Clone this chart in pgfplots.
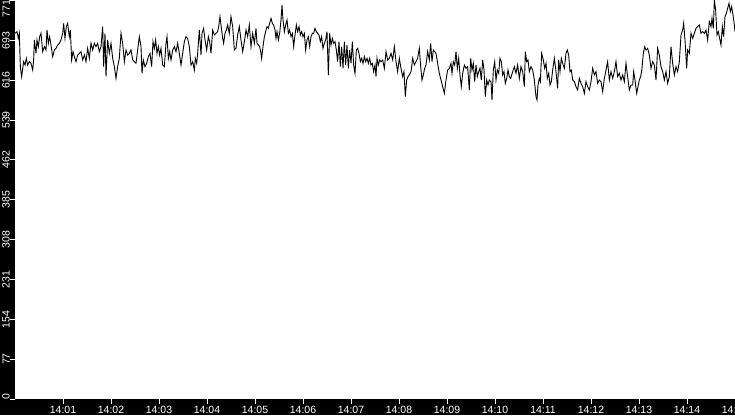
\documentclass[border=0pt]{standalone}
\usepackage{pgfplots}
\pgfplotsset{compat=1.18}
\usepackage{fontspec}
\setmainfont{Liberation Sans}
\begin{document}
\begin{tikzpicture}[x=1pt,y=1pt]
\fill[black] (0,0) rectangle (735,415);
\begin{axis}[
  at={(15pt,16pt)}, anchor=south west,
  scale only axis, width=720pt, height=399pt,
  xmin=0, xmax=900, ymin=0, ymax=771,
  axis background/.style={fill=white},
  axis line style={draw=none},
  tick align=outside, tick pos=left,
  major tick length=5pt,
  every tick/.style={white, line width=1pt},
  xtick={60,120,180,240,300,360,420,480,540,600,660,720,780,840,900},
  xticklabels={14:01,14:02,14:03,14:04,14:05,14:06,14:07,14:08,14:09,14:10,14:11,14:12,14:13,14:14,14:15},
  ytick={0,77,154,231,308,385,462,539,616,693,771},
  yticklabels={\rlap{0},77,154,231,308,385,462,539,616,693,\llap{771}},
  tick label style={white, font=\fontsize{10.5}{12}\selectfont, inner sep=0pt},
  yticklabel style={rotate=90, anchor=south},
  xticklabel style={anchor=north, yshift=-2pt},
  /pgf/number format/assume math mode=true,
]
\addplot[black, line width=0.9pt] coordinates {
(0,706.6)(2.5,709.8)(4.2,696.9)(5.4,706.6)(6.7,642.2)(8.3,622.9)(10.8,651.8)(12.5,645.4)(14.2,658.3)(15.8,645.4)
(17.9,651.8)(20,648.6)(22.1,635.7)(23.3,655.1)(24.2,693.7)(26.25,667.9)(27.5,693.7)(29.2,680.8)(30.8,700.1)(32.5,706.6)
(34.6,671.2)(36.7,680.8)(38.75,674.4)(40,713.0)(41.7,687.3)(43.3,700.1)(45,684.0)(47.1,661.5)(49.2,674.4)(51.25,677.6)
(53.3,684.0)(55.4,687.3)(57.5,693.7)(59.6,706.6)(60.8,725.9)(62.5,696.9)(64.2,719.5)(65.8,725.9)(67.9,700.1)(69.2,713.0)
(70.8,655.1)(72.5,671.2)(74.2,661.5)(76.25,651.8)(78.3,664.7)(80.4,667.9)(82.5,671.2)(84.6,655.1)(86.7,664.7)(88.75,651.8)
(90.8,677.6)(92.9,658.3)(95,687.3)(97.1,674.4)(99.2,687.3)(101.25,680.8)(103.3,687.3)(105.4,671.2)(107.5,680.8)(109.6,719.5)
(110.8,642.2)(112.5,706.6)(113.75,622.9)(115.8,693.7)(117.9,667.9)(120,687.3)(122.1,658.3)(124.2,642.2)(126.25,619.6)(128.3,642.2)
(130.4,658.3)(132.5,706.6)(134.6,687.3)(136.7,651.8)(138.75,674.4)(140.8,664.7)(142.9,667.9)(145,674.4)(147.1,655.1)(149.2,651.8)
(151.25,648.6)(153.3,674.4)(155.4,700.1)(157.5,680.8)(158.75,629.3)(160.4,655.1)(162.5,642.2)(164.6,648.6)(166.7,661.5)(168.75,667.9)
(170.8,642.2)(172.5,690.5)(174.2,677.6)(175.8,693.7)(177.5,667.9)(179.2,680.8)(180.8,664.7)(182.5,677.6)(184.6,645.4)(186.7,642.2)
(188.75,687.3)(190,700.1)(191.7,658.3)(193.3,671.2)(195,655.1)(197.1,674.4)(199.2,680.8)(201.25,671.2)(203.3,687.3)(205.4,667.9)
(207.5,645.4)(209.6,667.9)(211.7,690.5)(213.75,700.1)(215.8,696.9)(217.9,680.8)(220,645.4)(222.1,651.8)(224.2,635.7)(225.4,658.3)
(227.1,648.6)(228.3,667.9)(230.4,713.0)(232.5,664.7)(233.75,706.6)(235.8,716.3)(237.5,693.7)(239.6,674.4)(241.7,700.1)(243.3,690.5)
(245,667.9)(247.1,713.0)(249.2,703.4)(251.25,706.6)(253.3,709.8)(254.6,719.5)(256.25,738.8)(257.5,722.7)(259.6,696.9)(260.8,687.3)
(262.5,706.6)(264.2,713.0)(265.8,722.7)(267.9,706.6)(270,738.8)(272.1,719.5)(274.2,674.4)(276.25,677.6)(278.3,703.4)(280.4,719.5)
(282.5,693.7)(284.6,671.2)(286.7,690.5)(288.75,713.0)(290.8,700.1)(292.9,722.7)(295,680.8)(297.1,706.6)(299.2,687.3)(301.25,716.3)
(302.5,687.3)(304.2,684.0)(305.8,680.8)(307.5,667.9)(308.3,658.3)(310,680.8)(311.7,700.1)(313.3,709.8)(315,719.5)(316.7,716.3)
(318.3,725.9)(320,735.6)(321.7,725.9)(323.3,722.7)(325,713.0)(326.25,696.9)(327.5,709.8)(329.2,693.7)(330.8,706.6)(332.5,732.4)
(333.75,761.3)(335,732.4)(336.7,709.8)(338.3,722.7)(340,732.4)(341.7,706.6)(343.3,713.0)(345,700.1)(346.7,706.6)(348.3,680.8)
(350,703.4)(351.7,722.7)(353.3,709.8)(355,719.5)(356.7,703.4)(358.3,709.8)(360,700.1)(361.7,706.6)(363.3,674.4)(365,693.7)
(366.7,700.1)(368.3,680.8)(370,700.1)(371.7,706.6)(373.3,706.6)(375,716.3)(376.7,709.8)(378.3,706.6)(380,703.4)(381.7,690.5)
(383.3,700.1)(385,677.6)(386.7,687.3)(388.3,693.7)(390,709.8)(391.7,626.1)(393.3,706.6)(395,684.0)(396.7,696.9)(398.3,687.3)
(400,690.5)(401.7,674.4)(403.3,651.8)(405,690.5)(406.7,642.2)(408.3,680.8)(410,639.0)(411.7,690.5)(413.3,645.4)(415,684.0)
(416.7,639.0)(418.3,674.4)(420,648.6)(421.7,690.5)(423.3,645.4)(425,629.3)(426.7,674.4)(428.3,677.6)(430,667.9)(431.7,651.8)
(433.3,658.3)(435,648.6)(436.7,661.5)(438.3,651.8)(440,658.3)(441.7,648.6)(443.3,658.3)(445,645.4)(446.7,648.6)(448.3,632.5)
(450,645.4)(451.25,622.9)(452.5,658.3)(454.2,645.4)(455.8,655.1)(457.5,651.8)(459.6,655.1)(461.7,639.0)(463.75,671.2)(465.8,655.1)
(467.9,658.3)(470,667.9)(472.1,655.1)(474.2,680.8)(476.25,651.8)(478.3,632.5)(480.4,658.3)(482.5,639.0)(484.6,622.9)(486.25,632.5)
(487.9,584.2)(489.6,616.4)(491.25,622.9)(492.9,626.1)(495,632.5)(497.1,658.3)(499.2,645.4)(501.25,651.8)(503.3,658.3)(505.4,677.6)
(507.1,642.2)(508.75,616.4)(510.4,626.1)(512.1,639.0)(513.75,645.4)(515.8,671.2)(517.9,655.1)(519.6,687.3)(521.25,651.8)(522.9,674.4)
(524.6,671.2)(526.25,667.9)(528.3,648.6)(530.4,629.3)(532.5,616.4)(534.6,603.5)(536.7,590.7)(538.75,616.4)(540.8,635.7)(542.9,639.0)
(545,648.6)(546.25,629.3)(547.9,651.8)(549.6,645.4)(551.25,671.2)(552.9,639.0)(554.6,658.3)(556.25,626.1)(557.9,603.5)(559.6,629.3)
(561.7,645.4)(563.75,639.0)(565.8,642.2)(567.9,597.1)(569.6,658.3)(571.25,635.7)(572.9,648.6)(574.6,613.2)(576.25,645.4)(577.9,622.9)
(579.6,632.5)(581.25,639.0)(582.9,616.4)(584.6,655.1)(586.25,635.7)(587.9,584.2)(589.6,616.4)(591.25,606.8)(592.9,616.4)(595,613.2)
(596.25,577.8)(597.9,635.7)(599.6,651.8)(601.25,616.4)(602.9,635.7)(604.6,629.3)(606.25,658.3)(607.9,651.8)(609.6,626.1)(611.25,632.5)
(612.9,610.0)(614.6,619.6)(616.25,635.7)(617.9,622.9)(619.6,619.6)(622.1,632.5)(624.2,642.2)(626.25,629.3)(628.3,645.4)(630.4,619.6)
(632.5,642.2)(634.6,632.5)(636.7,603.5)(637.9,671.2)(639.6,651.8)(641.25,655.1)(642.9,632.5)(645,642.2)(647.1,635.7)(649.2,616.4)
(651.25,584.2)(652.5,577.8)(653.75,606.8)(655.4,619.6)(656.7,613.2)(658.3,667.9)(660.4,655.1)(662.1,639.0)(663.75,648.6)(665.4,619.6)
(667.1,629.3)(668.75,606.8)(670.4,613.2)(672.1,635.7)(674.2,658.3)(676.25,632.5)(678.3,600.3)(679.6,655.1)(681.25,632.5)(682.9,658.3)
(684.6,648.6)(686.7,639.0)(688.75,667.9)(690.4,674.4)(692.1,664.7)(693.75,632.5)(695.4,635.7)(697.1,616.4)(699.2,613.2)(701.25,603.5)
(703.3,597.1)(705.4,619.6)(707.5,610.0)(709.6,603.5)(711.7,590.7)(713.75,613.2)(715.8,603.5)(717.9,597.1)(720,613.2)(722.1,639.0)
(724.2,626.1)(726.25,632.5)(728.3,610.0)(730.4,616.4)(732.5,613.2)(734.6,593.9)(736.7,619.6)(738.75,635.7)(740.8,651.8)(742.9,616.4)
(745,632.5)(747.1,619.6)(749.2,632.5)(751.25,651.8)(753.3,622.9)(755.4,629.3)(757.5,616.4)(759.6,626.1)(761.7,613.2)(763.75,648.6)
(765.8,622.9)(767.9,597.1)(770,606.8)(772.1,606.8)(773.3,632.5)(775,616.4)(777.1,590.7)(778.75,603.5)(780.4,616.4)(782.1,622.9)
(783.75,639.0)(785.4,667.9)(787.1,680.8)(788.75,674.4)(790.8,677.6)(792.9,664.7)(795,639.0)(797.1,651.8)(799.2,645.4)(801.25,616.4)
(803.3,677.6)(805.4,664.7)(807.5,642.2)(809.6,632.5)(811.7,616.4)(813.75,632.5)(815.8,610.0)(817.9,622.9)(820,680.8)(822.1,648.6)
(824.2,626.1)(826.25,642.2)(828.3,632.5)(830.4,651.8)(832.5,703.4)(834.6,713.0)(835.8,725.9)(837.5,693.7)(839.6,639.0)(840.8,674.4)
(842.9,667.9)(845,706.6)(847.1,696.9)(849.2,706.6)(851.25,716.3)(853.3,719.5)(855.4,722.7)(857.5,706.6)(859.6,709.8)(861.7,706.6)
(863.75,713.0)(865.8,693.7)(867.9,729.1)(870,719.5)(871.25,735.6)(872.9,716.3)(874.2,771)(875.8,751.7)(877.5,703.4)(879.2,709.8)
(880.8,696.9)(882.5,684.0)(884.2,719.5)(885.8,700.1)(887.5,738.8)(889.2,745.2)(890.8,754.9)(892.5,764.6)(894.2,748.5)(895.8,758.1)
(897.5,742.0)(899.2,722.7)(900,709.8)
};
\end{axis}
\pgfresetboundingbox
\path[use as bounding box] (0,0) rectangle (735,415);
\end{tikzpicture}
\end{document}
